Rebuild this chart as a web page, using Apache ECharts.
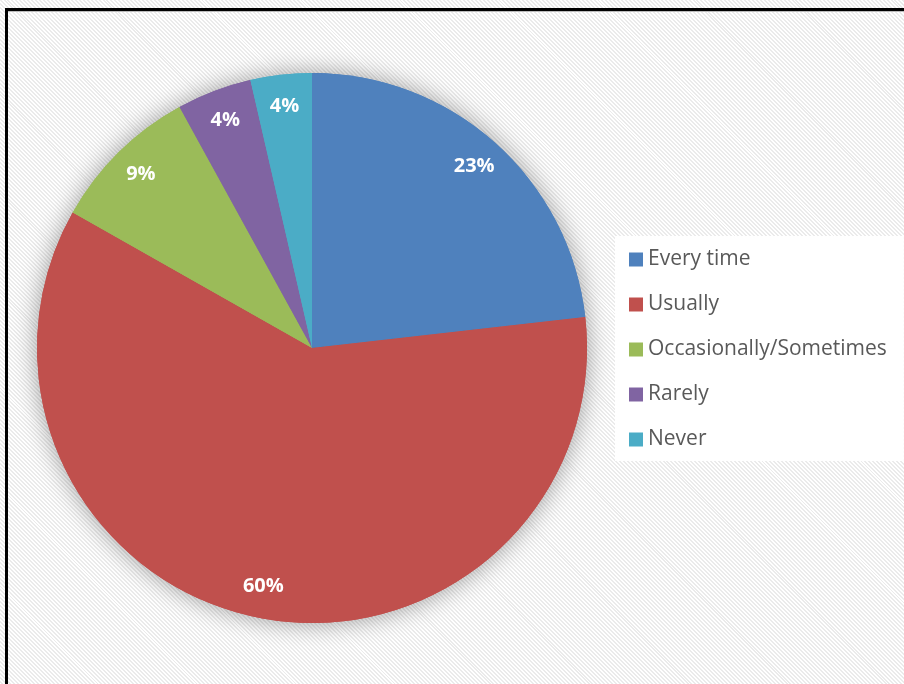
<!DOCTYPE html>
<html>
<head>
<meta charset="utf-8">
<script src="https://cdn.jsdelivr.net/npm/echarts@6/dist/echarts.min.js"></script>
<style>
html,body{margin:0;padding:0;background:#fff;}
#chart{width:904px;height:684px;
background:repeating-linear-gradient(45deg,#ffffff 0px,#ffffff 1.4px,#ebebeb 1.4px,#ebebeb 2.8px);}
</style>
</head>
<body>
<div id="chart"></div>
<script>
const categories = ['Every time', 'Usually', 'Occasionally/Sometimes', 'Rarely', 'Never'];
const values = [23.2, 60.0, 8.8, 4.4, 3.6];
const colors = ['#4F81BD', '#C0504D', '#9BBB59', '#8064A2', '#4BACC6'];

const data = categories.map((c, i) => ({ name: c, value: values[i], itemStyle: { color: colors[i] } }));

const chart = echarts.init(document.getElementById('chart'), null, { renderer: 'canvas' });
chart.setOption({
  backgroundColor: 'transparent',
  animation: false,
  legend: {
    orient: 'vertical',
    left: 615,
    top: 236,
    backgroundColor: '#ffffff',
    padding: [13, 17, 11, 14],
    itemWidth: 14,
    itemHeight: 14,
    itemGap: 24,
    icon: 'rect',
    textStyle: { color: '#595959', fontSize: 21, fontFamily: 'Open Sans', lineHeight: 20 },
    data: categories
  },
  graphic: [
    { type: 'rect', shape: { x: 5, y: 8, width: 899, height: 3 }, style: { fill: '#000' }, z: 100 },
    { type: 'rect', shape: { x: 5, y: 11, width: 899, height: 1 }, style: { fill: '#bbbbbb' }, z: 100 },
    { type: 'rect', shape: { x: 5, y: 8, width: 3, height: 676 }, style: { fill: '#000' }, z: 100 }
  ],
  series: [
    {
      type: 'pie',
      center: [312, 348],
      radius: [0, 275],
      startAngle: 90,
      clockwise: true,
      silent: true,
      label: { show: false },
      labelLine: { show: false },
      itemStyle: { shadowBlur: 24, shadowColor: 'rgba(0,0,0,0.38)' },
      data: data,
      z: 1
    },
    {
      type: 'pie',
      center: [312, 348],
      radius: [0, 275],
      startAngle: 90,
      silent: true,
      label: { show: false },
      labelLine: { show: false },
      data: data,
      z: 2
    },
    {
      type: 'pie',
      center: [312, 348],
      radius: [206, 275],
      startAngle: 90,
      silent: true,
      itemStyle: { color: 'rgba(0,0,0,0)' },
      label: {
        show: true,
        position: 'inside',
        color: '#ffffff',
        fontSize: 20,
        fontWeight: 'bold',
        fontFamily: 'Open Sans',
        formatter: p => Math.round(p.value) + '%'
      },
      labelLine: { show: false },
      data: categories.map((c, i) => ({ name: c, value: values[i], itemStyle: { color: 'rgba(0,0,0,0)' } })),
      z: 3
    }
  ]
});
</script>
</body>
</html>
